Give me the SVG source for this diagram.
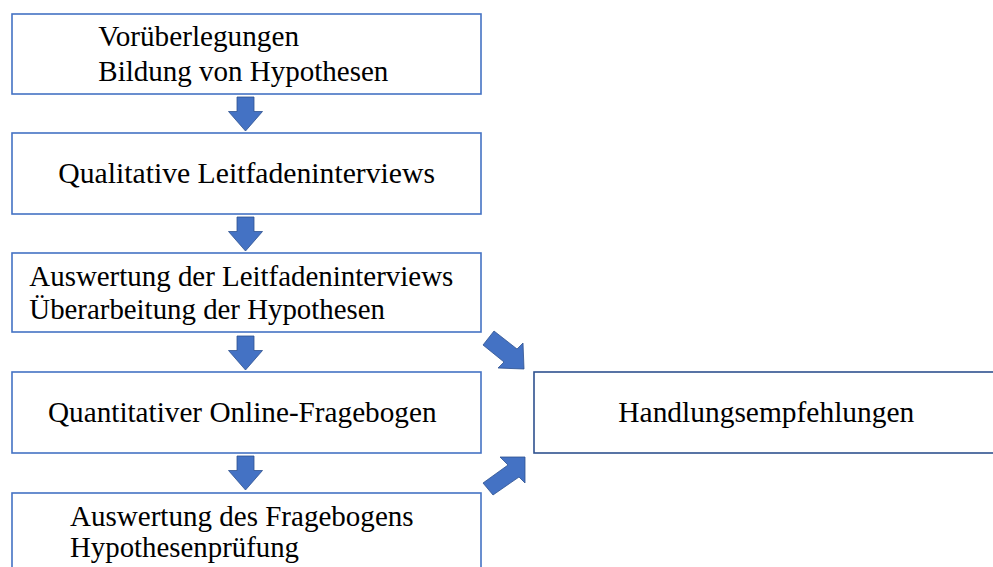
<svg xmlns="http://www.w3.org/2000/svg" width="993" height="567" viewBox="0 0 993 567">
<defs>
<style>
.box{fill:#ffffff;stroke:#4472C4;stroke-width:1.6}
.box2{fill:#ffffff;stroke:#2F528F;stroke-width:1.6}
.t{font-family:"Liberation Serif","Times New Roman",serif;font-size:28.6px;fill:#000000}
.arr{fill:#4472C4;stroke:#2F528F;stroke-width:0.8}
</style>
<path id="down" d="M-8.5,0 H8.5 V14.5 H17 L0,34 L-17,14.5 H-8.5 Z"/>
</defs>
<rect width="993" height="567" fill="#ffffff"/>
<g id="n1">
<rect class="box" x="12" y="14" width="469" height="80"/>
<text class="t" x="98.3" y="46" textLength="200.7" lengthAdjust="spacingAndGlyphs">Vorüberlegungen</text>
<text class="t" x="98.3" y="81" textLength="290" lengthAdjust="spacingAndGlyphs">Bildung von Hypothesen</text>
</g>
<g id="n2">
<rect class="box" x="12" y="133" width="469" height="81"/>
<text class="t" x="58.3" y="183" textLength="376.7" lengthAdjust="spacingAndGlyphs">Qualitative Leitfadeninterviews</text>
</g>
<g id="n3">
<rect class="box" x="12" y="253" width="469" height="79"/>
<text class="t" x="29.3" y="286" textLength="424" lengthAdjust="spacingAndGlyphs">Auswertung der Leitfadeninterviews</text>
<text class="t" x="29.3" y="319" textLength="355.7" lengthAdjust="spacingAndGlyphs">Überarbeitung der Hypothesen</text>
</g>
<g id="n4">
<rect class="box" x="12" y="372" width="469" height="81"/>
<text class="t" x="48" y="422" textLength="388.5" lengthAdjust="spacingAndGlyphs">Quantitativer Online-Fragebogen</text>
</g>
<g id="n5">
<rect class="box" x="12" y="493" width="469" height="90"/>
<text class="t" x="70" y="526" textLength="343.6" lengthAdjust="spacingAndGlyphs">Auswertung des Fragebogens</text>
<text class="t" x="70" y="557" textLength="229" lengthAdjust="spacingAndGlyphs">Hypothesenprüfung</text>
</g>
<g id="n6">
<rect class="box2" x="534" y="372" width="470" height="81"/>
<text class="t" x="618.3" y="422" textLength="296" lengthAdjust="spacingAndGlyphs">Handlungsempfehlungen</text>
</g>
<g id="connectors">
<use href="#down" class="arr" x="245.5" y="97"/>
<use href="#down" class="arr" x="245.5" y="217"/>
<use href="#down" class="arr" x="245.5" y="336"/>
<use href="#down" class="arr" x="245.5" y="456"/>
<polygon class="arr" points="494,331 517,349 523,343 524,369 498,368 504,362 483,345"/>
<polygon class="arr" points="483,483 508,465 500,457 525,457 525,483 519,477 493,495"/>
</g>
</svg>
